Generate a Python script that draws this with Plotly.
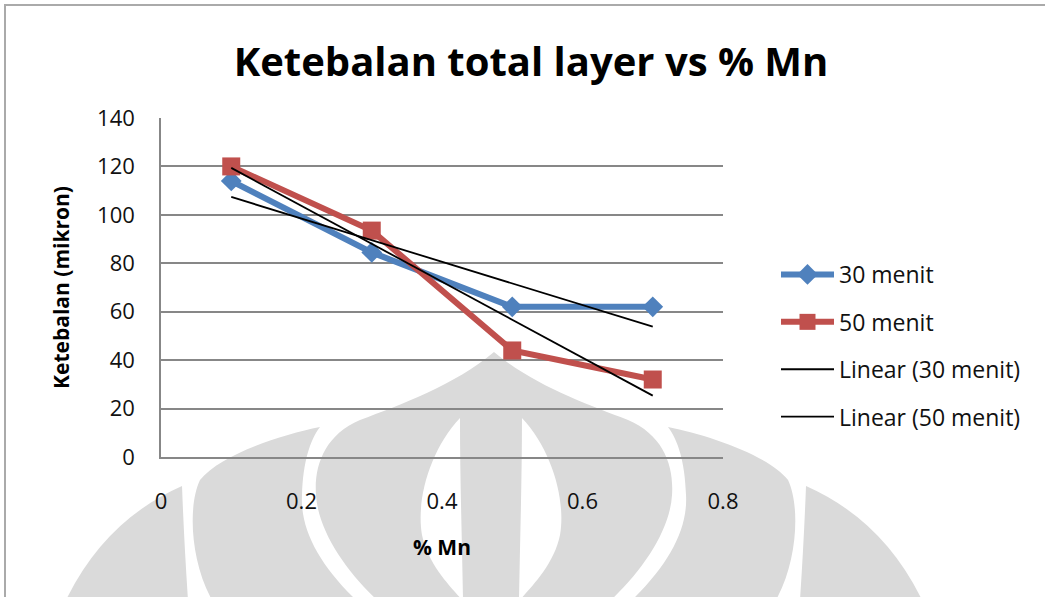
import numpy as np
import plotly.graph_objects as go

# Series data: % Mn vs total layer thickness (micron)
mn_pct = [0.1, 0.3, 0.5, 0.7]
tebal_30 = [114, 84.5, 62, 62]
tebal_50 = [120, 93.5, 44, 32]

x_ticks = [0, 0.2, 0.4, 0.6, 0.8]
y_ticks = [0, 20, 40, 60, 80, 100, 120, 140]

BLUE = "#4F81BD"
RED = "#C0504D"
FONT = "Open Sans"

W, H = 1045, 597
L, R, T, B = 161, 322, 118, 140


def linfit(x, y):
    k, c = np.polyfit(x, y, 1)
    return [k * v + c for v in x]


fig = go.Figure()
fig.add_trace(go.Scatter(
    x=mn_pct, y=tebal_30, name="30 menit", mode="lines+markers",
    line=dict(color=BLUE, width=6),
    marker=dict(symbol="diamond", size=16, color=BLUE),
    legendgroup="a"))
fig.add_trace(go.Scatter(
    x=mn_pct, y=tebal_50, name="50 menit", mode="lines+markers",
    line=dict(color=RED, width=6),
    marker=dict(symbol="square", size=18, color=RED),
    legendgroup="b"))
fig.add_trace(go.Scatter(
    x=mn_pct, y=linfit(mn_pct, tebal_30), name="Linear (30 menit)", mode="lines",
    line=dict(color="black", width=1.8), legendgroup="c"))
fig.add_trace(go.Scatter(
    x=mn_pct, y=linfit(mn_pct, tebal_50), name="Linear (50 menit)", mode="lines",
    line=dict(color="black", width=1.8), legendgroup="d"))


# background emblem drawn in pixel space, converted to paper units
def px(x, y):
    return (x - L) / (W - L - R), (H - B - y) / (H - T - B)


def path(cmds):
    out = []
    for c in cmds:
        if isinstance(c, str):
            out.append(c)
        else:
            xx, yy = px(*c)
            out.append(f"{xx:.4f},{yy:.4f}")
    return " ".join(out)


def mirror(cmds, cx):
    return [c if isinstance(c, str) else (2 * cx - c[0], c[1]) for c in cmds]


GRAY = "#dadada"
bud = ["M", (494, 352), "C", (455, 385), (400, 405), (360, 420),
       "C", (325, 435), (314, 465), (316, 495),
       "C", (318, 530), (345, 570), (377, 600),
       "L", (611, 600),
       "C", (643, 570), (670, 530), (672, 495),
       "C", (674, 465), (663, 435), (628, 420),
       "C", (588, 405), (533, 385), (494, 352), "Z"]
slit = ["M", (460, 418), "C", (430, 450), (416, 500), (422, 535),
        "C", (428, 565), (452, 588), (462, 600),
        "L", (463, 600), "C", (462, 540), (460, 480), (460, 418), "Z"]
petal2 = ["M", (320, 427), "C", (280, 435), (220, 455), (200, 480),
          "C", (188, 505), (190, 560), (212, 600),
          "L", (356, 600), "C", (320, 565), (300, 530), (302, 495),
          "C", (303, 462), (310, 440), (320, 427), "Z"]
petal3 = ["M", (182, 486), "Q", (105, 520), (66, 600),
          "L", (188, 600), "Q", (184, 540), (182, 486), "Z"]

shapes = []
for p, col in [(bud, GRAY), (petal2, GRAY), (mirror(petal2, 494), GRAY),
               (petal3, GRAY), (mirror(petal3, 494), GRAY),
               (slit, "white"), (mirror(slit, 491), "white")]:
    shapes.append(dict(type="path", path=path(p), xref="paper", yref="paper",
                       fillcolor=col, line=dict(width=0), layer="below"))

# outer chart frame
x0, y0 = px(5, 5)
x1, y1 = px(1060, 610)
shapes.append(dict(type="rect", xref="paper", yref="paper", x0=x0, y0=y0, x1=x1, y1=y1,
                   line=dict(color="#aaaaaa", width=2), layer="below"))

fig.update_layout(
    width=W, height=H,
    margin=dict(l=L, r=R, t=T, b=B, autoexpand=False),
    paper_bgcolor="white", plot_bgcolor="rgba(0,0,0,0)",
    font=dict(family=FONT, size=22, color="#111111"),
    shapes=shapes,
    title=dict(text="<b>Ketebalan total layer vs % Mn</b>",
               font=dict(family=FONT, size=40, color="black"),
               x=531 / W, xanchor="center", xref="container",
               y=1 - 62 / H, yanchor="middle"),
    showlegend=True,
    legend=dict(x=(776 - L) / (W - L - R), xanchor="left",
                y=(H - B - 253) / (H - T - B), yanchor="top",
                bgcolor="rgba(0,0,0,0)", tracegroupgap=14.5, itemwidth=53,
                font=dict(family=FONT, size=23, color="#111111")),
)

fig.update_xaxes(range=[0, 0.8], tickvals=x_ticks, ticktext=[f"{v:g}" for v in x_ticks],
                 showgrid=False, zeroline=False,
                 showline=True, linecolor="#878787", linewidth=1.5,
                 ticks="outside", ticklen=24, tickcolor="rgba(0,0,0,0)",
                 title=dict(text="<b>% Mn</b>", font=dict(family=FONT, size=21, color="black"),
                            standoff=26))
fig.update_yaxes(range=[0, 140], tickvals=y_ticks,
                 showgrid=True, gridcolor="#878787", gridwidth=1.5, zeroline=False,
                 showline=True, linecolor="#878787", linewidth=1.5,
                 ticks="outside", ticklen=20, tickcolor="rgba(0,0,0,0)",
                 title=dict(text="<b>Ketebalan (mikron)</b>",
                            font=dict(family=FONT, size=21, color="black"), standoff=22))

fig.write_html("out.html")
